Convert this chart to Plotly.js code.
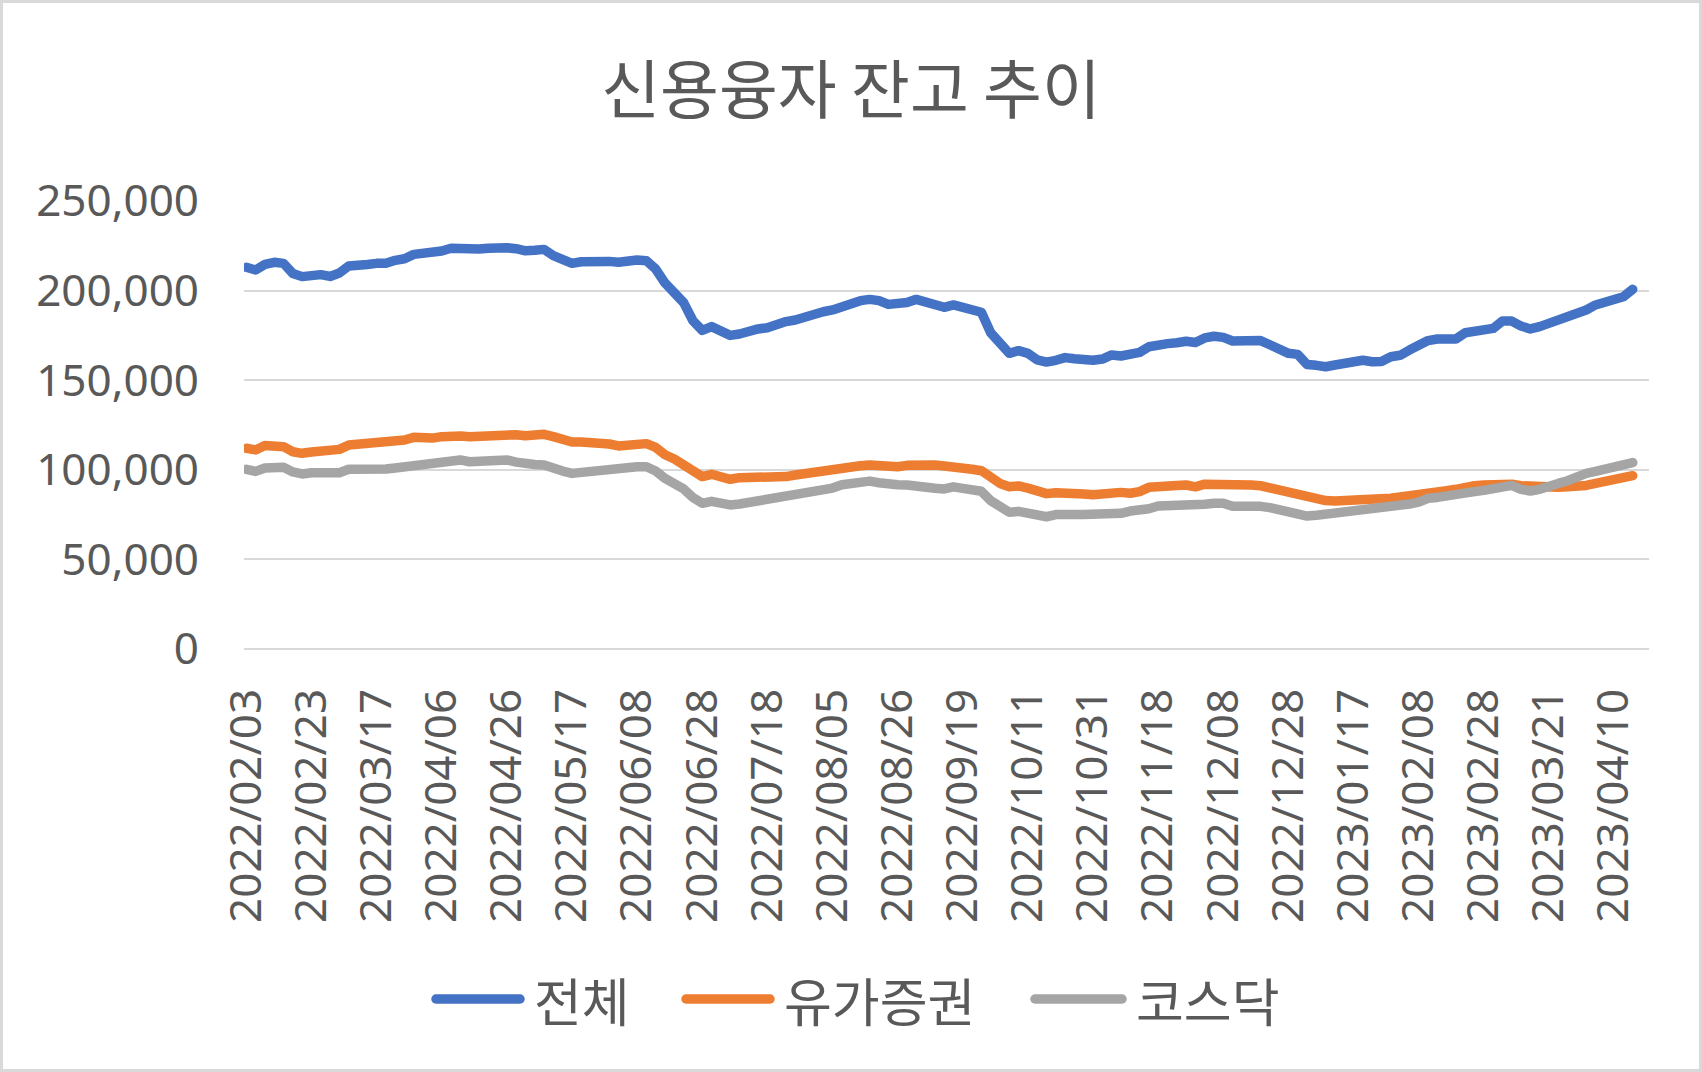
<!DOCTYPE html>
<html>
<head>
<meta charset="utf-8">
<script src="https://cdn.plot.ly/plotly-3.0.1.min.js"></script>
<style>
  html, body { margin: 0; padding: 0; background: #ffffff; }
  #wrap { position: relative; width: 1702px; height: 1072px; }
  #chart { position: absolute; left: 0; top: 0; width: 1702px; height: 1072px; }
  #frame { position: absolute; left: 0; top: 0; width: 1702px; height: 1072px; box-sizing: border-box; border: 3px solid #d9d9d9; pointer-events: none; }
  #chart .scatterlayer path.js-line { stroke-linejoin: round !important; stroke-linecap: round !important; }
  #chart .shapelayer path { stroke-linecap: round !important; }
</style>
</head>
<body>
<div id="wrap">
  <div id="chart"></div>
  <div id="frame"></div>
</div>
<script>
// Trading-day position of each sampled point (0 = 2022/02/03)
const dayIndex = [0,2,4,6,8,10,12,14,16,18,20,22,24,26,28,30,32,34,36,38,40,42,44,46,48,50,52,54,56,58,60,62,64,66,68,70,72,74,76,78,80,82,84,86,88,90,92,94,96,98,100,102,104,106,108,110,112,114,116,118,120,122,124,126,128,130,132,134,136,138,140,142,144,146,148,150,152,154,156,158,160,162,164,166,168,170,172,174,176,178,180,182,184,186,188,190,192,194,196,198,200,202,204,206,208,210,212,214,216,218,220,222,224,226,228,230,232,234,236,238,240,242,244,246,248,250,252,254,256,258,260,262,264,266,268,270,272,274,276,278,280,282,284,286,288,290,292,294,296,298];

// 전체
const total = [213000,211500,214600,215800,215200,209600,207800,208300,208900,207900,209800,213700,213500,214600,215200,215200,216900,217800,220200,220400,221000,222100,223600,223200,222500,223200,223600,224300,223900,223400,222200,222500,223000,219500,217600,215200,216100,216500,216700,216300,215800,217100,217100,216700,212000,204200,199200,193300,183200,177800,179900,177500,175000,175800,177600,178600,179300,181400,182700,183600,185400,186400,188200,189200,191400,193600,194400,195100,194400,192300,192500,193400,195100,193300,192300,190700,192000,191000,189500,187900,176500,170000,165000,166500,165000,161300,160100,161100,162600,162000,161300,161100,161800,164100,163500,164600,165500,168700,170000,170400,170900,171700,171000,173600,174500,173900,171900,172200,172400,172100,169800,167200,165000,164400,158800,158300,157500,158500,159200,160300,161100,160300,160500,163100,163900,166800,169400,172100,173000,172500,173000,176500,177100,177800,178900,183000,183000,180200,178600,179900,181700,183200,185400,186900,189200,192000,193800,195100,196600,200700];

// 유가증권
const kospi = [112000,111100,113600,113600,112900,110100,109200,109900,110300,109700,111400,113800,114200,115000,115000,114800,115500,116600,118100,117400,117700,118500,119000,118900,118500,118900,119400,119600,120300,119600,119000,119600,119800,118500,117000,115500,115500,115300,114600,114400,113300,113800,114600,114600,112500,108400,106000,103200,99300,96200,97500,96200,94700,95600,95600,95600,95200,95600,96200,97100,98000,98800,99500,100100,101000,101700,102300,102700,102100,101600,101700,102500,103000,102900,102700,102100,101900,101100,100300,99500,95200,92400,90600,91000,89800,87800,86700,87200,87400,87000,86500,86100,86700,87800,87400,86900,87800,90200,91000,91000,91300,91500,90500,92000,92100,92100,91000,91500,91500,91100,89800,88900,87800,86900,85000,84100,82800,82600,82800,83100,83500,83100,83000,84100,84800,85700,86900,87800,88200,88400,89100,90600,91100,91500,91900,92400,92000,91100,90600,90200,89500,90200,90600,90400,91300,92400,93400,93900,94700,96700];

// 코스닥
const kosdaq = [100300,99100,101000,101700,101400,98800,97700,98400,98200,97500,98400,100300,100100,99900,100300,100400,101000,101700,103000,103800,104500,105300,106000,105500,104500,104900,105100,104900,105500,104300,103000,103000,102700,100600,99300,98000,98600,99100,100300,100600,100600,101400,101700,101700,99300,95200,92300,89300,84600,81300,82400,81100,80400,80900,81700,82400,83100,84800,85700,86500,87000,87800,88700,89800,91700,92800,93400,93700,92800,91900,91700,91500,91300,90400,89700,89300,90500,89600,89100,88000,82800,78900,76300,76800,76100,74200,73800,75000,75700,75100,75000,75000,75000,75500,75700,77000,77400,78300,79800,79800,79800,80000,80300,80800,81300,81300,79600,79800,80200,79600,78900,77900,77200,76300,74200,74600,75100,75700,76300,77000,77600,77600,78500,79400,80000,80900,82000,84100,84600,85100,85900,87200,87800,88500,89500,91000,91300,89100,88200,89100,90200,92400,93900,96300,98000,99100,100300,101400,102700,104000];

// Category tick labels, one every 14 trading days
const tickLabels = ["2022/02/03","2022/02/23","2022/03/17","2022/04/06","2022/04/26","2022/05/17","2022/06/08","2022/06/28","2022/07/18","2022/08/05","2022/08/26","2022/09/19","2022/10/11","2022/10/31","2022/11/18","2022/12/08","2022/12/28","2023/01/17","2023/02/08","2023/02/28","2023/03/21","2023/04/10"];

const seriesNames = ["전체", "유가증권", "코스닥"];
const seriesColors = ["#4472C4", "#ED7D31", "#A5A5A5"];
const seriesValues = [total, kospi, kosdaq];

const TICK_STEP = 14;
const CATEGORY_COUNT = 302;

// Layout geometry (pixels)
const W = 1702, H = 1072;
const M = { l: 244, r: 53, t: 201, b: 423 };
const plotW = W - M.l - M.r, plotH = H - M.t - M.b;
const px2x = px => (px - M.l) / plotW;
const py2y = py => (H - M.b - py) / plotH;

const traces = seriesValues.map((vals, k) => ({
  type: 'scatter',
  mode: 'lines',
  name: seriesNames[k],
  x: dayIndex,
  y: vals,
  line: { color: seriesColors[k], width: 9.5 },
  showlegend: false,
  hoverinfo: 'skip'
}));

// custom legend (line sample + label), Excel style
const legendY = py2y(999);
const legendItems = [
  { x0: 436, x1: 520, tx: 532 },
  { x0: 686, x1: 770, tx: 782 },
  { x0: 1035, x1: 1122, tx: 1134 }
];
const shapes = legendItems.map((it, k) => ({
  type: 'line', xref: 'paper', yref: 'paper',
  x0: px2x(it.x0), x1: px2x(it.x1), y0: legendY, y1: legendY,
  line: { color: seriesColors[k], width: 9.5 }
}));
const annotations = legendItems.map((it, k) => ({
  xref: 'paper', yref: 'paper', x: px2x(it.tx), y: legendY,
  xanchor: 'left', yanchor: 'middle', showarrow: false,
  text: seriesNames[k],
  font: { family: 'Noto Sans CJK KR', size: 52, color: '#595959' }
}));

const tickVals = tickLabels.map((_, i) => i * TICK_STEP);

const layout = {
  width: W, height: H,
  margin: { l: M.l, r: M.r, t: M.t, b: M.b, pad: 0 },
  paper_bgcolor: '#ffffff',
  plot_bgcolor: '#ffffff',
  showlegend: false,
  title: {
    text: '신용융자 잔고 추이',
    font: { family: 'Noto Sans CJK KR', size: 64, color: '#595959' },
    x: 0.5, xref: 'container', xanchor: 'center',
    y: 1 - 91 / H, yref: 'container', yanchor: 'middle'
  },
  xaxis: {
    type: 'linear',
    range: [-0.5, CATEGORY_COUNT - 0.5],
    tickmode: 'array',
    tickvals: tickVals,
    ticktext: tickLabels,
    tickangle: -90,
    tickfont: { family: 'Noto Sans, Noto Sans CJK KR', size: 44, color: '#595959' },
    ticks: '',
    ticklabelstandoff: 30,
    showgrid: false, zeroline: false, showline: false,
    fixedrange: true
  },
  yaxis: {
    range: [0, 250000],
    tick0: 0, dtick: 50000,
    tickformat: ',d',
    tickfont: { family: 'Noto Sans, Noto Sans CJK KR', size: 44, color: '#595959' },
    ticks: '',
    ticklabelstandoff: 44,
    showgrid: true, gridcolor: '#d9d9d9', gridwidth: 2,
    zeroline: true, zerolinecolor: '#d9d9d9', zerolinewidth: 2,
    showline: false,
    fixedrange: true
  },
  shapes: shapes,
  annotations: annotations
};

Plotly.newPlot('chart', traces, layout, { displayModeBar: false, staticPlot: true });
</script>
</body>
</html>
